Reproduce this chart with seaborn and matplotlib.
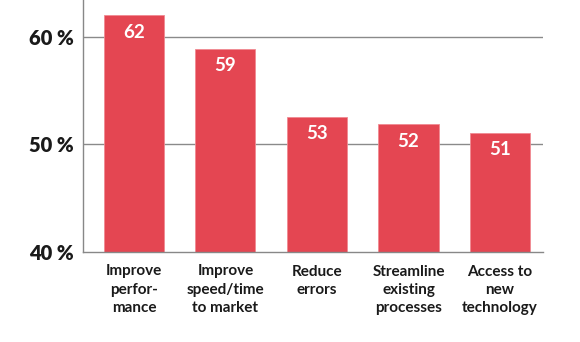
import matplotlib
matplotlib.use("Agg")
import matplotlib.pyplot as plt
import seaborn as sns
import pandas as pd

categories = ["Improve\nperfor-\nmance", "Improve\nspeed/time\nto market", "Reduce\nerrors",
              "Streamline\nexisting\nprocesses", "Access to\nnew\ntechnology"]
values = [62.0, 58.9, 52.6, 51.9, 51.1]
value_labels = ["62", "59", "53", "52", "51"]
yticks = [40, 50, 60]
ytick_labels = ["40 %", "50 %", "60 %"]

sns.set_theme(style="white")
plt.rcParams['font.family'] = ['Lato', 'DejaVu Sans']

fig = plt.figure(figsize=(5.8, 3.42), dpi=100)
ax = fig.add_axes([83/580, 1-252/342, 460/580, 252/342])

df = pd.DataFrame({"cat": categories, "val": values})
sns.barplot(data=df, x="cat", y="val", color="#E44652", saturation=1, width=0.656,
            ax=ax, edgecolor="#F08A92", linewidth=0.6)

ax.set_ylim(40, 63.44)
ax.set_xlim(-0.557, 4.47)
ax.set_yticks(yticks)
ax.set_yticklabels(ytick_labels, fontsize=14.5, fontweight="heavy", color="#1a1a1a")
ax.set_xticks(range(len(categories)))
ax.set_xticklabels(categories, fontsize=11, fontweight="bold", color="#1a1a1a", linespacing=1.4)
ax.tick_params(axis="y", length=0, pad=6.5)
ax.tick_params(axis="x", length=0, pad=9)
ax.set_xlabel("")
ax.set_ylabel("")

for y in [50, 60]:
    ax.axhline(y, color="#8a8a8a", linewidth=1, zorder=0)

for s in ["top", "right"]:
    ax.spines[s].set_visible(False)
for s in ["left", "bottom"]:
    ax.spines[s].set_color("#888888")
    ax.spines[s].set_linewidth(1)

for i, (v, lab) in enumerate(zip(values, value_labels)):
    ax.annotate(lab, (i, v), xytext=(0, -17), textcoords="offset pixels",
                ha="center", va="center", color="white", fontsize=13.5, fontweight="bold")

fig.savefig("out.png", dpi=100)
